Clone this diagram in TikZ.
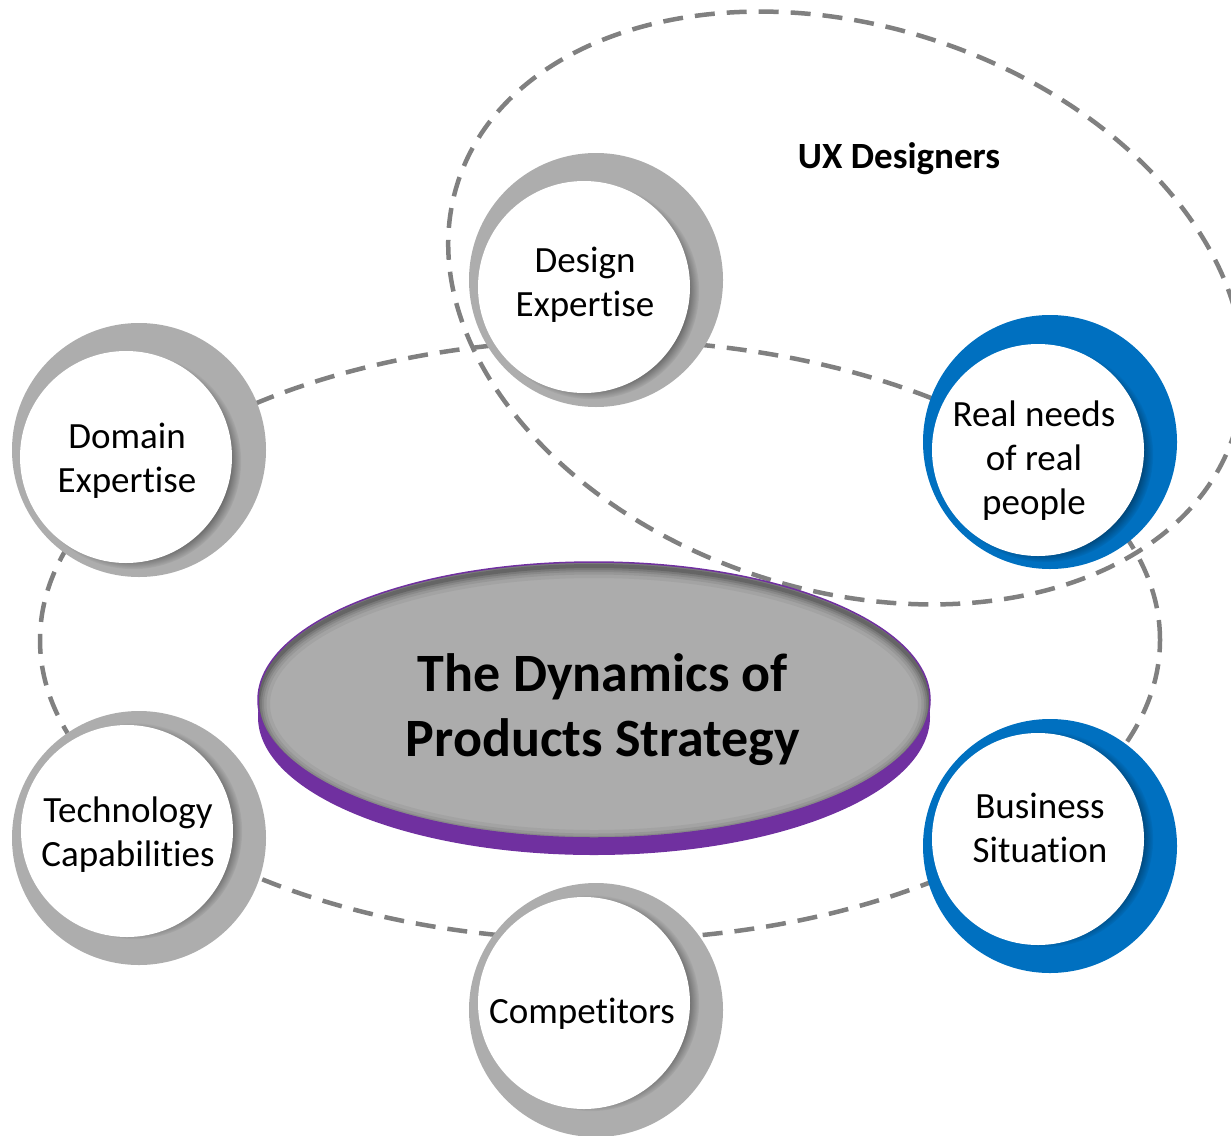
\documentclass[tikz,border=0pt]{standalone}
\usepackage{fontspec}
\setmainfont{Carlito}[Ligatures=NoCommon]
\usetikzlibrary{shadows,fadings}
\definecolor{ringgray}{HTML}{ADADAD}
\definecolor{ringblue}{HTML}{0070C0}
\definecolor{dashgray}{HTML}{808080}
\definecolor{discpurple}{HTML}{7030A0}
\definecolor{discgray}{HTML}{ACACAC}
\tikzset{
  dashring/.style={draw=dashgray, line width=4.5pt, dash pattern=on 20pt off 12pt},
  outerring/.style={circle, minimum size=254pt, inner sep=0pt, fill=#1},
  innerdisc/.style={circle, minimum size=212pt, inner sep=0pt, fill=white,
    circular drop shadow={shadow xshift=7pt, shadow yshift=#1, shadow scale=1.02, opacity=0.55, fill=black}},
  lbl/.style={font=\fontsize{37}{44}\selectfont, align=center, text=black, inner sep=0pt},
}
\begin{document}
\begin{tikzpicture}[x=1pt, y=-1pt]
\useasboundingbox (0,0) rectangle (1231,1135);
% dashed rings
\draw[dashring] (600,640) ellipse [x radius=560pt, y radius=300pt];
\draw[dashring, rotate around={-18:(846,308)}] (846,308) ellipse [x radius=408pt, y radius=282pt];
% central disc
\fill[discpurple] (594,717) ellipse [x radius=336pt, y radius=138pt];
\fill[discgray] (594,700) ellipse [x radius=336pt, y radius=138pt];
\begin{scope}
  \clip (594,700) ellipse [x radius=336pt, y radius=138pt];
  \foreach \w/\o in {24/0.05, 17/0.07, 12/0.09, 8/0.11, 4/0.16}
    \draw[black, opacity=\o, line width=\w pt] (594,704) ellipse [x radius=336pt, y radius=138pt];
\end{scope}
\draw[discpurple, line width=1.5pt] (594,700) ellipse [x radius=336pt, y radius=138pt];
\node[font=\bfseries\fontsize{54}{65}\selectfont, align=center, inner sep=0pt] (core) at (603,710) {The Dynamics of\\Products Strategy};
% circles
\node[outerring=ringgray] (designO) at (596,280) {};
\node[innerdisc=-4pt] (design) at (584,287) {};
\node[outerring=ringblue] (needsO) at (1050,442) {};
\node[innerdisc=-4pt] (needs) at (1038,450) {};
\node[outerring=ringgray] (domainO) at (139,450) {};
\node[innerdisc=-4pt] (domain) at (126,457) {};
\node[outerring=ringgray] (techO) at (139,838) {};
\node[innerdisc=0pt] (tech) at (127,831) {};
\node[outerring=ringblue] (busO) at (1050,846) {};
\node[innerdisc=0pt] (bus) at (1038,839) {};
\node[outerring=ringgray] (compO) at (596,1010) {};
\node[innerdisc=0pt] (comp) at (584,1003) {};
% labels
\node[lbl] (designT) at (585,285) {Design\\Expertise};
\node[lbl] (needsT) at (1034,461) {Real needs\\of real\\people};
\node[lbl] (domainT) at (127,461) {Domain\\Expertise};
\node[lbl] (techT) at (128,835) {Technology\\Capabilities};
\node[lbl] (busT) at (1040,828) {Business\\Situation};
\node[lbl] (compT) at (582,1014) {Competitors};
\node[font=\bfseries\fontsize{37}{44}\selectfont, inner sep=0pt] (ux) at (899,159) {UX Designers};
\end{tikzpicture}
\end{document}
